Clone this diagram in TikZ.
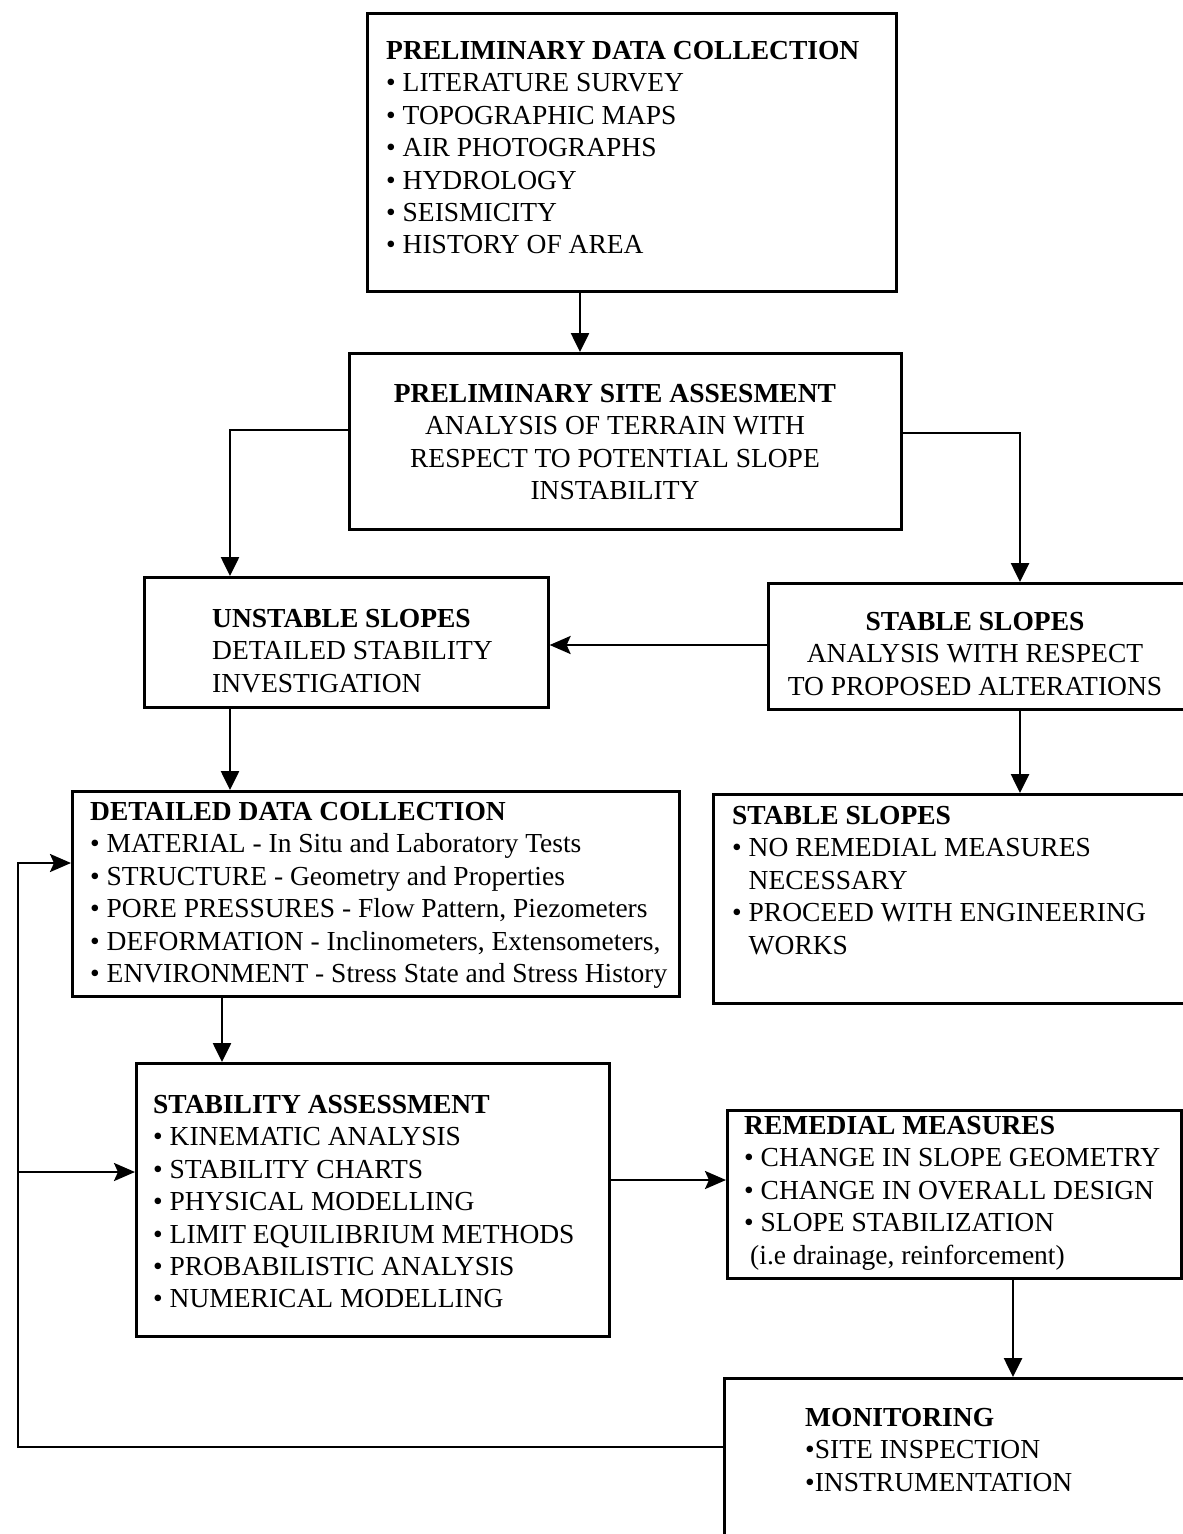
\documentclass[tikz,border=0pt]{standalone}
\usepackage{fontspec}
\setmainfont{Liberation Serif}
\usetikzlibrary{arrows.meta,calc}

\begin{document}
\begin{tikzpicture}[x=1pt,y=-1pt,
  box/.style={draw, line width=2.6pt, rectangle, inner sep=0pt, anchor=north west},
  txt/.style={inner sep=0pt, font=\fontsize{27.5}{32.4}\selectfont, align=left, anchor=north west},
  ctxt/.style={txt, align=center, anchor=north},
  conn/.style={line width=2.6pt, line join=miter},
  dn/.style={conn, -{Triangle[length=19pt,width=18pt]}},
  hz/.style={conn, -{Stealth[length=21pt,width=18pt,inset=4pt]}},
]
\useasboundingbox (0,0) rectangle (1183,1534);
\clip (0,0) rectangle (1183,1534);

% ---- boxes ----
\node[box, minimum width=529pt, minimum height=278pt] (b1) at (366,12) {};
\node[box, minimum width=552pt, minimum height=176pt] (b2) at (348,352) {};
\node[box, minimum width=404pt, minimum height=130pt] (b3) at (143,576) {};
\node[box, minimum width=430pt, minimum height=126pt] (b4) at (767,582) {};
\node[box, minimum width=607pt, minimum height=205pt] (b5) at (71,790) {};
\node[box, minimum width=480pt, minimum height=209pt] (b6) at (712,793) {};
\node[box, minimum width=473pt, minimum height=273pt] (b7) at (135,1062) {};
\node[box, minimum width=454pt, minimum height=168pt] (b8) at (726,1109) {};
\node[box, minimum width=470pt, minimum height=200pt] (b9) at (723,1377) {};

% ---- texts ----
\node[txt] (t1) at (386,41) {\textbf{PRELIMINARY DATA COLLECTION}\\
  • LITERATURE SURVEY\\
  • TOPOGRAPHIC MAPS\\
  • AIR PHOTOGRAPHS\\
  • HYDROLOGY\\
  • SEISMICITY\\
  • HISTORY OF AREA};

\node[ctxt] (t2) at (615,384) {\textbf{PRELIMINARY SITE ASSESMENT}\\
  ANALYSIS OF TERRAIN WITH\\
  RESPECT TO POTENTIAL SLOPE\\
  INSTABILITY};

\node[txt] (t3) at (212,609) {\textbf{UNSTABLE SLOPES}\\
  DETAILED STABILITY\\
  INVESTIGATION};

\node[ctxt] (t4) at (975,612) {\textbf{STABLE SLOPES}\\
  ANALYSIS WITH RESPECT\\
  TO PROPOSED ALTERATIONS};

\node[txt] (t5) at (90,802) {\textbf{DETAILED DATA COLLECTION}\\
  • MATERIAL - In Situ and Laboratory Tests\\
  • STRUCTURE - Geometry and Properties\\
  • PORE PRESSURES - Flow Pattern, Piezometers\\
  • DEFORMATION - Inclinometers, Extensometers,\\
  • ENVIRONMENT - Stress State and Stress History};

\node[txt] (t6) at (732,806) {\textbf{STABLE SLOPES}\\
  • NO REMEDIAL MEASURES\\
  \phantom{•\ }NECESSARY\\
  • PROCEED WITH ENGINEERING\\
  \phantom{•\ }WORKS};

\node[txt] (t7) at (153,1095) {\textbf{STABILITY ASSESSMENT}\\
  • KINEMATIC ANALYSIS\\
  • STABILITY CHARTS\\
  • PHYSICAL MODELLING\\
  • LIMIT EQUILIBRIUM METHODS\\
  • PROBABILISTIC ANALYSIS\\
  • NUMERICAL MODELLING};

\node[txt] (t8) at (744,1116) {\textbf{REMEDIAL MEASURES}\\
  • CHANGE IN SLOPE GEOMETRY\\
  • CHANGE IN OVERALL DESIGN\\
  • SLOPE STABILIZATION\\
  \hspace{6pt}(i.e drainage, reinforcement)};

\node[txt] (t9) at (805,1408) {\textbf{MONITORING}\\
  •SITE INSPECTION\\
  •INSTRUMENTATION};

% ---- connectors ----
\draw[dn] (b1.south -| 580,0) -- (b2.north -| 580,0);
\draw[dn] (b2.west |- 0,430) -| (b3.north -| 230,0);
\draw[dn] (b2.east |- 0,433) -| (b4.north -| 1020,0);
\draw[hz] (b4.west |- 0,645) -- (b3.east |- 0,645);
\draw[dn] (b3.south -| 230,0) -- (b5.north -| 230,0);
\draw[dn] (b4.south -| 1020,0) -- (b6.north -| 1020,0);
\draw[dn] (b5.south -| 222,0) -- (b7.north -| 222,0);
\draw[hz] (b7.east |- 0,1180) -- (b8.west |- 0,1180);
\draw[dn] (b8.south -| 1013,0) -- (b9.north -| 1013,0);

% feedback loop from monitoring
\coordinate (fbl) at (18,1447);
\coordinate (fbt) at (18,863);
\coordinate (fbm) at (18,1172);
\draw[hz] (b9.west |- fbl) -- (fbl) -- (fbt) -- (b5.west |- fbt);
\draw[hz] (fbm) -- (b7.west |- fbm);
\end{tikzpicture}
\end{document}
